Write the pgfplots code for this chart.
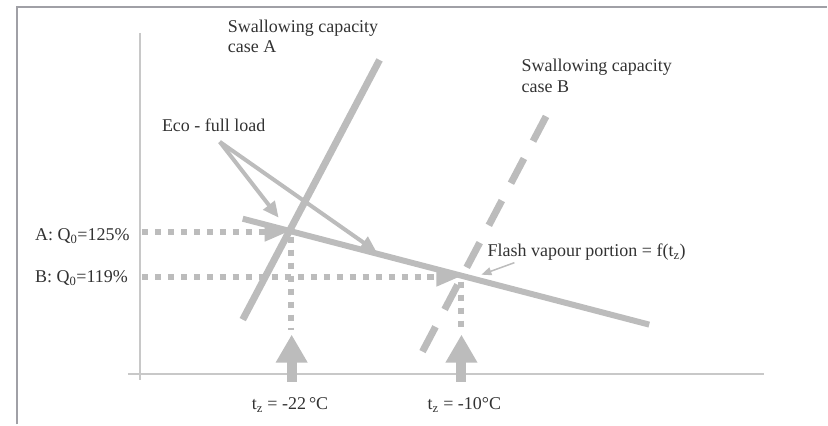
\documentclass[border=0pt]{standalone}
\usepackage{pgfplots}
\pgfplotsset{compat=1.18}
\usepackage{fontspec}
\setmainfont{Liberation Serif}
\usetikzlibrary{arrows.meta}
\definecolor{lg}{RGB}{188,188,188}
\definecolor{ax}{RGB}{200,200,200}
\definecolor{fr}{RGB}{160,160,166}
\definecolor{tx}{RGB}{50,50,50}
\begin{document}
\begin{tikzpicture}
\begin{axis}[width=828pt,height=425pt,scale only axis,
  xmin=0,xmax=828,ymin=0,ymax=425,axis lines=none,clip=false,
  every axis plot/.append style={no markers}]
\path[draw=none] (rel axis cs:0,0) rectangle (rel axis cs:1,1);
% frame
\addplot[fr,line width=2pt] coordinates {(17,0) (17,418) (828,418)};
% axes
\addplot[ax,line width=2pt] coordinates {(140,392) (140,45)};
\addplot[ax,line width=2pt] coordinates {(128,51) (765,51)};
% swallowing capacity A
\addplot[lg,line width=7pt] coordinates {(243,105) (380,365)};
% swallowing capacity B (dashed)
\addplot[lg,line width=7pt,dash pattern=on 28pt off 19.6pt] coordinates {(423,73) (547,309)};
% flash vapour line
\addplot[lg,line width=6pt] coordinates {(243,206) (650,100)};
% dotted horizontals with arrow
\addplot[lg,line width=6pt,dash pattern=on 6.5pt off 6.5pt,-{Triangle[length=24pt,width=18pt]}] coordinates {(142,193) (289,193)};
\addplot[lg,line width=6pt,dash pattern=on 6.5pt off 6.5pt,-{Triangle[length=24pt,width=18pt]}] coordinates {(142,148) (461,148)};
% dotted verticals
\addplot[lg,line width=6pt,dash pattern=on 6.5pt off 6.5pt] coordinates {(291,188) (291,95)};
\addplot[lg,line width=6pt,dash pattern=on 6.5pt off 6.5pt] coordinates {(462,143) (462,95)};
% big arrows
\addplot[lg,line width=10pt,-{Triangle[length=28pt,width=30pt]}] coordinates {(292,43) (292,90)};
\addplot[lg,line width=10pt,-{Triangle[length=28pt,width=30pt]}] coordinates {(462,43) (462,90)};
% eco arrows
\addplot[lg,line width=4pt,-{Triangle[length=16pt,width=14pt]}] coordinates {(220,283) (279,207)};
\addplot[lg,line width=4pt,-{Triangle[length=16pt,width=14pt]}] coordinates {(220,283) (377,173)};
% flash arrow
\addplot[lg,line width=1.5pt,-{Triangle[length=10pt,width=8pt]}] coordinates {(515,162) (482,150)};
% texts
\begin{scope}[every node/.style={anchor=base west,inner sep=0pt,text=tx,font=\fontsize{18}{21}\selectfont}]
\node at (axis cs:228,392) {Swallowing capacity};
\node at (axis cs:228,372) {case A};
\node at (axis cs:522,353) {Swallowing capacity};
\node at (axis cs:522,332) {case B};
\node at (axis cs:162,293) {Eco - full load};
\node at (axis cs:35,184) {A: Q\textsubscript{0}=125\%};
\node at (axis cs:35,142) {B: Q\textsubscript{0}=119\%};
\node at (axis cs:488,168) {Flash vapour portion = f(t\textsubscript{z})};
\node at (axis cs:252,15) {t\textsubscript{z} = -22\,°C};
\node at (axis cs:428,15) {t\textsubscript{z} = -10°C};
\end{scope}
\end{axis}
\end{tikzpicture}
\end{document}
